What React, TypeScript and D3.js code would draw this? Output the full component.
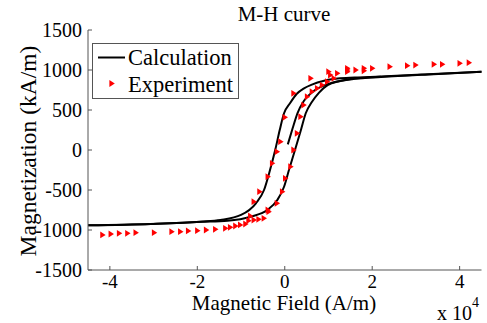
import React from 'react';
import * as d3 from 'd3';

// field H in units of 10^4 A/m, magnetization M in kA/m
const xTicks = [-4, -2, 0, 2, 4];
const yTicks = [-1500, -1000, -500, 0, 500, 1000, 1500];

// calculation: descending branch
const descH = [4.5, 3.4, 2.2, 1.6, 1.21, 0.9, 0.62, 0.44, 0.27, 0.12, -0.016, -0.115, -0.218, -0.337, -0.474, -0.66, -1.0, -1.47, -1.92, -3.07, -4.5];
const descM = [977, 950, 918, 905, 893, 866, 818, 771, 700, 584, 459, 250, 0, -250, -500, -666, -812, -875, -896, -925, -942];

// calculation: ascending branch
const ascH = [-4.5, -3.07, -1.92, -1.31, -0.78, -0.4, -0.17, -0.016, 0.096, 0.234, 0.37, 0.48, 0.62, 0.78, 0.98, 1.25, 1.6, 2.2, 3.4, 4.5];
const ascM = [-942, -925, -898, -884, -834, -750, -625, -459, -250, 0, 250, 459, 600, 715, 810, 860, 890, 913, 948, 977];

// calculation: initial magnetization curve
const initH = [0.07, 0.18, 0.29, 0.44, 0.67, 0.98, 1.4, 2.2];
const initM = [70, 271, 459, 615, 740, 823, 878, 916];

// experiment
const expH = [
  4.22, 4.01, 3.61, 3.42, 3.0, 2.81, 2.41, 2.01, 1.82, 1.82, 1.63, 1.44, 1.44, 1.44, 1.21, 1.01, 1.05, 1.13, 0.6,
  0.98, 0.86, 0.75, 0.63, 0.52, 0.44, 0.37, 0.29, 0.21, 0.14, 0.02, -0.05, -0.17, -0.38,
  0.21, 0.01, -0.09, -0.17, -0.28, -0.38, -0.57, -0.7,
  -0.36, -0.47, -0.59, -0.7, -0.82, -0.78, -0.89, -1.01, -1.12, -1.24, -1.35, -1.58, -1.79, -1.99, -2.2, -2.38, -2.58, -2.98, -3.4, -3.59, -3.78, -3.97, -4.16,
];
const expM = [
  1091, 1084, 1071, 1071, 1062, 1054, 1041, 1021, 1021, 990, 1000, 1021, 1000, 979, 959, 979, 937, 896, 896,
  854, 812, 771, 729, 666, 562, 416, 209, 0, -209, -354, -521, -666, -750,
  709, 409, 104, -21, -166, -334, -521, -646,
  -771, -854, -866, -875, -884, -825, -925, -937, -950, -966, -979, -991, -1000, -1009, -1012, -1021, -1021, -1034, -1034, -1041, -1041, -1050, -1062,
];

const FONT = '"Liberation Serif", "Times New Roman", Times, serif';
const AXIS = '#555';

// right-pointing triangle marker
const tri = (cx: number, cy: number) =>
  `M${cx - 2.6},${cy - 3.4}L${cx + 2.8},${cy}L${cx - 2.6},${cy + 3.4}Z`;

export default function App() {
  const x = d3.scaleLinear().domain([-4.5, 4.5]).range([88, 481.5]);
  const y = d3.scaleLinear().domain([-1500, 1500]).range([270, 30]);

  const pts = (hs: number[], ms: number[]) =>
    hs.map((h, i) => [h, ms[i]] as [number, number]).sort((a, b) => a[0] - b[0]);

  const line = d3
    .line<[number, number]>()
    .x(d => x(d[0]))
    .y(d => y(d[1]))
    .curve(d3.curveMonotoneX);

  const curves = [pts(descH, descM), pts(ascH, ascM), pts(initH, initM)];

  const [x0, x1] = x.range();
  const [yb, yt] = y.range();

  return (
    <svg
      width={487}
      height={323}
      style={{ position: 'absolute', left: 0, top: 0, background: '#fff', fontFamily: FONT }}
    >
      <text x={284} y={20.5} textAnchor="middle" fontSize={21}>M-H curve</text>

      {/* curves */}
      {curves.map((c, i) => (
        <path key={i} d={line(c) || ''} fill="none" stroke="#000" strokeWidth={2} />
      ))}

      {/* experiment markers */}
      {expH.map((h, i) => (
        <path key={i} d={tri(x(h), y(expM[i]))} fill="#ff0000" />
      ))}

      {/* axes */}
      <line x1={x0} x2={x0} y1={yt} y2={yb} stroke={AXIS} strokeWidth={1} />
      <line x1={x0} x2={x1} y1={yb} y2={yb} stroke={AXIS} strokeWidth={1} />
      {yTicks.map(t => (
        <g key={t}>
          <line x1={x0} x2={x0 + 4} y1={y(t)} y2={y(t)} stroke={AXIS} />
          <text x={82} y={y(t)} dy="0.33em" textAnchor="end" fontSize={20}>{t}</text>
        </g>
      ))}
      {xTicks.map(t => (
        <g key={t}>
          <line x1={x(t)} x2={x(t)} y1={yb} y2={yb - 4} stroke={AXIS} />
          <text x={x(t)} y={287.5} textAnchor="middle" fontSize={19}>{t}</text>
        </g>
      ))}

      <text x={284} y={309.5} textAnchor="middle" fontSize={21}>Magnetic Field (A/m)</text>
      <text x={437} y={320} fontSize={20}>x 10</text>
      <text x={472} y={307} fontSize={14}>4</text>
      <text
        transform="translate(36,151) rotate(-90)"
        textAnchor="middle"
        fontSize={23.5}
      >
        Magnetization (kA/m)
      </text>

      {/* legend */}
      <rect x={92.5} y={43.5} width={146} height={55} fill="#fff" stroke={AXIS} />
      <line x1={98} x2={125} y1={57.5} y2={57.5} stroke="#000" strokeWidth={2} />
      <text x={128} y={65} fontSize={22.5}>Calculation</text>
      <path d={tri(112, 83.5)} fill="#ff0000" />
      <text x={128} y={92} fontSize={22.5}>Experiment</text>
    </svg>
  );
}
